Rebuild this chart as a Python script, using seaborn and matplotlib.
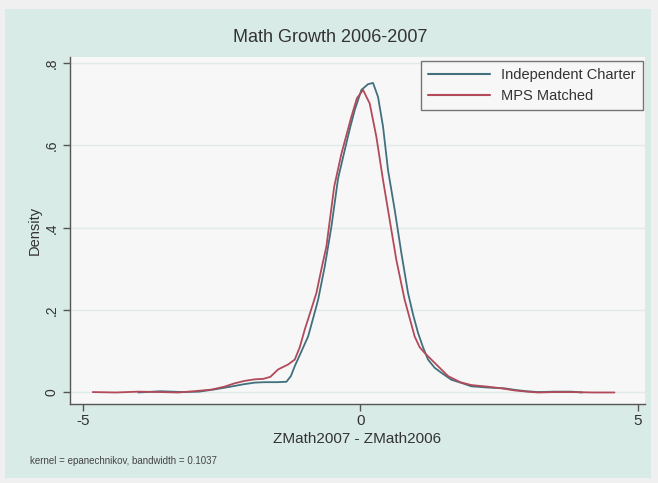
import pandas as pd
import matplotlib.pyplot as plt
import seaborn as sns
from matplotlib.patches import Rectangle

# Density curves (x = ZMath2007 - ZMath2006)
charter_x = [-4.0, -3.6, -3.2, -2.9, -2.6, -2.3, -2.1, -1.9, -1.72, -1.5, -1.33, -1.25,
             -1.18, -1.06, -0.94, -0.85, -0.76, -0.64, -0.52, -0.40, -0.25, -0.18, -0.10,
             0.02, 0.14, 0.23, 0.32, 0.41, 0.50, 0.62, 0.74, 0.86, 0.95, 1.04, 1.13, 1.22,
             1.34, 1.46, 1.64, 1.85, 2.0, 2.3, 2.6, 2.8, 3.0, 3.2, 3.5, 3.8, 4.0]
charter_y = [0.0, 0.003, 0.001, 0.002, 0.008, 0.015, 0.02, 0.024, 0.025, 0.025, 0.026, 0.04,
             0.064, 0.10, 0.136, 0.18, 0.225, 0.306, 0.403, 0.52, 0.606, 0.645, 0.686,
             0.735, 0.749, 0.752, 0.718, 0.646, 0.54, 0.444, 0.339, 0.242, 0.19, 0.145, 0.11, 0.08,
             0.06, 0.048, 0.031, 0.022, 0.015, 0.012, 0.01, 0.006, 0.003, 0.001, 0.002, 0.002, 0.0]

mps_x = [-4.82, -4.4, -4.0, -3.6, -3.28, -3.0, -2.68, -2.45, -2.27, -2.09, -1.9, -1.75,
         -1.62, -1.48, -1.30, -1.18, -1.09, -1.0, -0.90, -0.79, -0.70, -0.61, -0.47, -0.34,
         -0.16, -0.06, 0.05, 0.17, 0.29, 0.41, 0.53, 0.65, 0.80, 0.98, 1.07, 1.16, 1.34,
         1.58, 1.8, 2.0, 2.3, 2.55, 2.78, 3.0, 3.2, 3.5, 3.8, 4.2, 4.58]
mps_y = [0.001, 0.0, 0.002, 0.001, 0.0, 0.003, 0.007, 0.014, 0.022, 0.028, 0.032, 0.033,
         0.038, 0.056, 0.068, 0.08, 0.11, 0.153, 0.195, 0.242, 0.30, 0.355, 0.50, 0.58,
         0.67, 0.715, 0.735, 0.702, 0.621, 0.516, 0.419, 0.322, 0.225, 0.136, 0.11, 0.096, 0.072,
         0.04, 0.025, 0.018, 0.014, 0.01, 0.005, 0.002, 0.0, 0.001, 0.001, 0.0, 0.0]

groups = ["Independent Charter", "MPS Matched"]
y_ticks = [0, 0.2, 0.4, 0.6, 0.8]
y_tick_labels = ["0", ".2", ".4", ".6", ".8"]
x_ticks = [-5, 0, 5]

df = pd.concat([
    pd.DataFrame({"x": charter_x, "density": charter_y, "group": groups[0]}),
    pd.DataFrame({"x": mps_x, "density": mps_y, "group": groups[1]}),
], ignore_index=True)

sns.set_theme(style="white")
plt.rcParams["font.family"] = ["Liberation Sans", "DejaVu Sans"]

teal = "#d9ebe7"
fig = plt.figure(figsize=(6.58, 4.83), dpi=100, facecolor="#f0f0f0")
fig.patches.append(Rectangle((5 / 658, 5 / 483), 646 / 658, 469 / 483,
                             transform=fig.transFigure, facecolor=teal,
                             edgecolor="none", zorder=-10))

ax = fig.add_axes([70 / 658, (483 - 404) / 483, 575 / 658, 347 / 483])
ax.set_facecolor("#f6f7f6")

sns.lineplot(data=df, x="x", y="density", hue="group", sort=False, estimator=None,
             palette={groups[0]: "#41707f", groups[1]: "#b24a5a"},
             linewidth=1.3, ax=ax, legend=False)

ax.set_xlim(-5.23, 5.13)
ax.set_ylim(-0.028, 0.815)
ax.set_yticks(y_ticks)
ax.set_yticklabels(y_tick_labels, rotation=90, va="center", fontsize=10)
ax.set_xticks(x_ticks)
ax.set_xticklabels([str(t) for t in x_ticks], fontsize=11)
for t in y_ticks:
    ax.axhline(t, color="#e3ebe9", linewidth=1, zorder=0)

for side in ["top", "right"]:
    ax.spines[side].set_visible(False)
for side in ["left", "bottom"]:
    ax.spines[side].set_color("#555555")
    ax.spines[side].set_linewidth(1)
ax.tick_params(axis="both", direction="out", length=5, width=1, color="#555555",
               colors="#333333", left=True, bottom=True)
ax.tick_params(axis="x", pad=2)
ax.tick_params(axis="y", pad=3)

ax.set_xlabel("ZMath2007 - ZMath2006", fontsize=11, color="#333333", labelpad=3)
ax.set_ylabel("Density", fontsize=10.5, color="#333333", labelpad=2)
fig.text(330 / 658, 1 - 38 / 483, "Math Growth 2006-2007", ha="center", va="center",
         fontsize=13, color="#333333")
fig.text(30 / 658, 1 - 461 / 483, "kernel = epanechnikov, bandwidth = 0.1037",
         ha="left", va="center", fontsize=7, color="#444444")

handles = [plt.Line2D([], [], color="#41707f", linewidth=1.5),
           plt.Line2D([], [], color="#b24a5a", linewidth=1.5)]
leg = ax.legend(handles, groups, loc="upper right",
                bbox_to_anchor=(643 / 658, 1 - 61 / 483), bbox_transform=fig.transFigure,
                fontsize=10.5, handlelength=4.2, labelspacing=0.45, borderpad=0.5,
                handletextpad=0.8, fancybox=False, frameon=True, borderaxespad=0)
leg.get_frame().set_edgecolor("#555555")
leg.get_frame().set_facecolor("#f6f7f6")
leg.get_frame().set_linewidth(1)
for txt in leg.get_texts():
    txt.set_color("#333333")

fig.savefig("out.png", dpi=100, facecolor=fig.get_facecolor())
